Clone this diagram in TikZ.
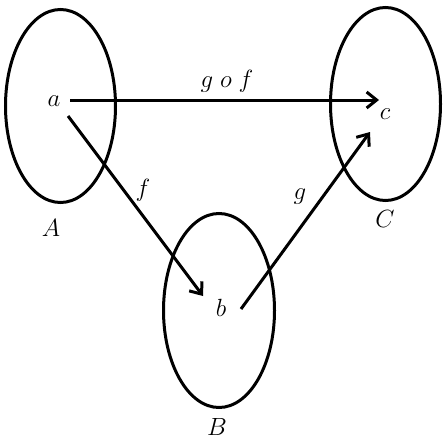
\documentclass[tikz,border=0pt]{standalone}
\usetikzlibrary{arrows.meta}
\begin{document}
\begin{tikzpicture}[x=1pt,y=-1pt,
  setline/.style={line width=3pt},
  maparrow/.style={line width=3pt,-{Straight Barb[length=10pt,width=16pt,line width=3pt]}},
  lbl/.style={inner sep=0pt,font=\fontsize{28}{28}\selectfont}]
\useasboundingbox (0,0) rectangle (446,441);
% sets
\draw[setline] (60.5,106) ellipse [x radius=55, y radius=96.5];
\draw[setline] (219,310.5) ellipse [x radius=55.5, y radius=97];
\draw[setline] (385.5,104) ellipse [x radius=55, y radius=96.5];
% elements
\node[lbl] (a) at (54,101) {$a$};
\node[lbl] (b) at (221,308) {$b$};
\node[lbl] (c) at (385,114) {$c$};
% set names
\node[lbl] (A) at (51,228) {$A$};
\node[lbl] (B) at (217,427) {$B$};
\node[lbl] (C) at (385,219) {$C$};
% arrow ends
\coordinate (as) at (70,100);
\coordinate (ce) at (379,100);
\coordinate (ab) at (68,116);
\coordinate (be) at (203,296);
\coordinate (bs) at (241,309);
\coordinate (cb) at (370,132);
\draw[maparrow] (as) -- (ce);
\draw[maparrow] (ab) -- (be);
\draw[maparrow] (bs) -- (cb);
% map labels
\node[lbl] (gof) at (227,81) {$g\;o\;f$};
\node[lbl] (f) at (143,190) {$f$};
\node[lbl] (g) at (300,197) {$g$};
\end{tikzpicture}
\end{document}
